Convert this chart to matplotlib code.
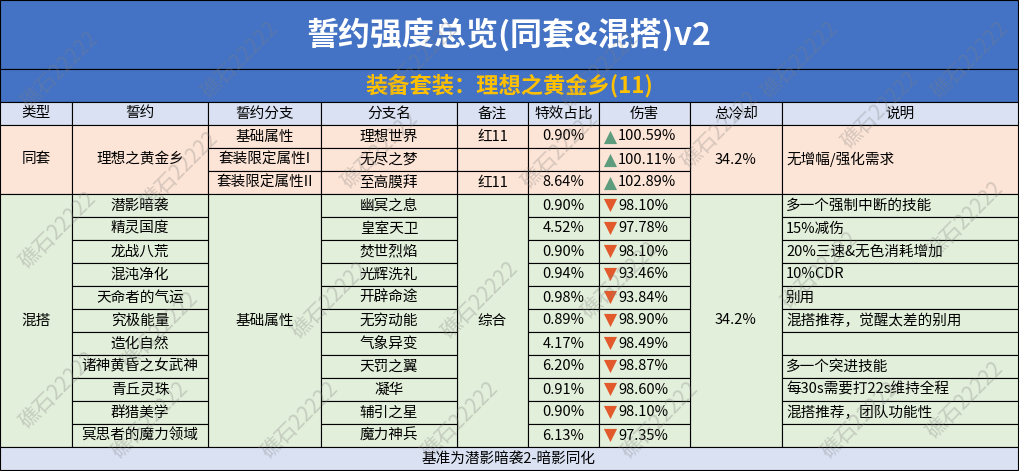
import matplotlib
matplotlib.use("Agg")
import matplotlib.pyplot as plt
from matplotlib.patches import Rectangle

plt.rcParams['font.family'] = ['Noto Sans CJK SC', 'DejaVu Sans']

title = "誓约强度总览(同套&混搭)v2"
subtitle = "装备套装：理想之黄金乡(11)"
headers = ["类型", "誓约", "誓约分支", "分支名", "备注", "特效占比", "伤害", "总冷却", "说明"]
pacts = ["潜影暗袭", "精灵国度", "龙战八荒", "混沌净化", "天命者的气运", "究极能量", "造化自然",
         "诸神黄昏之女武神", "青丘灵珠", "群猎美学", "冥思者的魔力领域"]
set_branches = ["基础属性", "套装限定属性I", "套装限定属性II"]
branch_names = ["理想世界", "无尽之梦", "至高膜拜", "幽冥之息", "皇室天卫", "焚世烈焰", "光辉洗礼", "开辟命途",
                "无穷动能", "气象异变", "天罚之翼", "凝华", "辅引之星", "魔力神兵"]
notes_set = ["红11", "", "红11"]
ratios = ["0.90%", "", "8.64%", "0.90%", "4.52%", "0.90%", "0.94%", "0.98%", "0.89%", "4.17%", "6.20%",
          "0.91%", "0.90%", "6.13%"]
damage = [100.59, 100.11, 102.89, 98.10, 97.78, 98.10, 93.46, 93.84, 98.90, 98.49, 98.87, 98.60, 98.10, 97.35]
cooldown = ["34.2%", "34.2%"]
notes_mix = ["多一个强制中断的技能", "15%减伤", "20%三速&无色消耗增加", "10%CDR", "别用", "混搭推荐，觉醒太差的别用",
             "", "多一个突进技能", "每30s需要打22s维持全程", "混搭推荐，团队功能性", ""]
footer = "基准为潜影暗袭2-暗影同化"

W, H = 1019, 471
fig = plt.figure(figsize=(W/100, H/100), dpi=100)
ax = fig.add_axes([0, 0, 1, 1])
ax.set_xlim(0, W); ax.set_ylim(H, 0); ax.axis('off')

cols = [0, 72, 208, 321, 457, 528, 599, 690, 782, 1018]
BLUE = "#4472C4"; HEAD = "#D9E1F2"; PEACH = "#FCE4D6"; GREEN = "#E2EFDA"
y_title, y_sub, y_head, y0, rh = 0, 69, 102, 125, 23
nrows = len(branch_names)
y_foot = y0 + nrows * rh
FS = 10.5

def cell(x0, x1, ya, yb, fc, text="", ha="center", color="black", size=FS, weight="normal", lw=0.8):
    ax.add_patch(Rectangle((x0, ya), x1 - x0, yb - ya, facecolor=fc, edgecolor="black", lw=lw))
    if text:
        tx = (x0 + x1) / 2 if ha == "center" else x0 + 4
        ax.text(tx, (ya + yb) / 2, text, ha=ha, va="center", color=color, fontsize=size, weight=weight)

cell(0, W - 1, y_title, y_sub, BLUE, title, color="white", size=23, weight="bold")
cell(0, W - 1, y_sub, y_head, BLUE, subtitle, color="#FFC000", size=16, weight="bold")
for i, h in enumerate(headers):
    cell(cols[i], cols[i+1], y_head, y0, HEAD, h)

def ry(i):
    return y0 + i * rh

cell(cols[0], cols[1], ry(0), ry(3), PEACH, "同套")
cell(cols[1], cols[2], ry(0), ry(3), PEACH, "理想之黄金乡")
cell(cols[7], cols[8], ry(0), ry(3), PEACH, cooldown[0])
cell(cols[8], cols[9], ry(0), ry(3), PEACH, "无增幅/强化需求", ha="left")
for i in range(3):
    cell(cols[2], cols[3], ry(i), ry(i+1), PEACH, set_branches[i])
    cell(cols[4], cols[5], ry(i), ry(i+1), PEACH, notes_set[i])
cell(cols[0], cols[1], ry(3), ry(nrows), GREEN, "混搭")
cell(cols[2], cols[3], ry(3), ry(nrows), GREEN, "基础属性")
cell(cols[4], cols[5], ry(3), ry(nrows), GREEN, "综合")
cell(cols[7], cols[8], ry(3), ry(nrows), GREEN, cooldown[1])
for k, p in enumerate(pacts):
    i = k + 3
    cell(cols[1], cols[2], ry(i), ry(i+1), GREEN, p)
    cell(cols[8], cols[9], ry(i), ry(i+1), GREEN, notes_mix[k], ha="left")
for i in range(nrows):
    fc = PEACH if i < 3 else GREEN
    cell(cols[3], cols[4], ry(i), ry(i+1), fc, branch_names[i])
    cell(cols[5], cols[6], ry(i), ry(i+1), fc, ratios[i])
    cell(cols[6], cols[7], ry(i), ry(i+1), fc)
    yc = ry(i) + rh / 2
    up = damage[i] >= 100
    ax.scatter([cols[6] + 11], [yc + (0 if up else -1)], marker="^" if up else "v", s=90,
               color="#5E9C7E" if up else "#E25A2C", zorder=5, linewidths=0)
    ax.text(cols[6] + 19, yc, f"{damage[i]:.2f}%", ha="left", va="center", fontsize=FS)
cell(0, W - 1, y_foot, H - 1, HEAD, footer)

marks = [(60, 70), (240, 60), (420, 60), (600, 70), (800, 60), (970, 60), (58, 230), (180, 170),
         (380, 150), (560, 150), (720, 130), (880, 110), (58, 390), (160, 330), (330, 300), (480, 300),
         (620, 280), (820, 270), (965, 220), (150, 420), (300, 420), (460, 420), (660, 420), (860, 420), (965, 400)]
for (x, y) in marks:
    ax.text(x, y, "礁石22222", rotation=45, ha="center", va="center", fontsize=15,
            color="gray", alpha=0.3, zorder=10)

fig.savefig("out.png", dpi=100)
